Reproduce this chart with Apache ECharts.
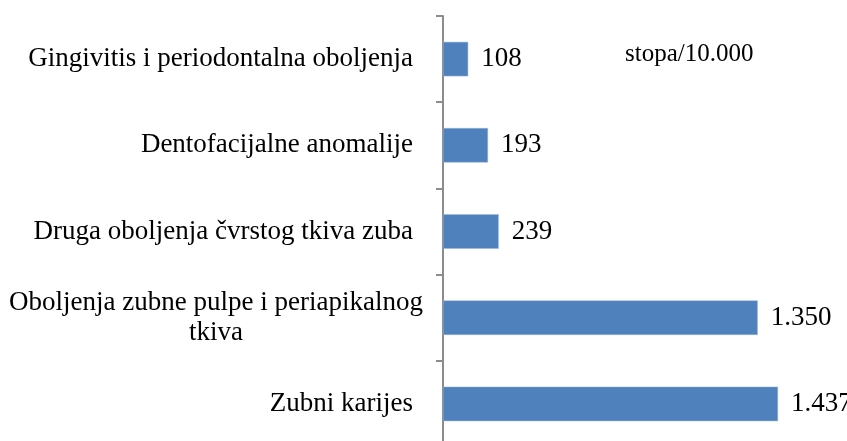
<!DOCTYPE html>
<html>
<head>
<meta charset="utf-8">
<script src="https://cdn.jsdelivr.net/npm/echarts@6/dist/echarts.min.js"></script>
<style>
  html, body { margin: 0; padding: 0; background: #fff; }
  #chart { width: 847px; height: 441px; }
</style>
</head>
<body>
<div id="chart"></div>
<script>
// bottom to top, as the category axis draws them
const categories = [
  'Zubni karijes',
  'Oboljenja zubne pulpe i periapikalnog\ntkiva',
  'Druga oboljenja čvrstog tkiva zuba',
  'Dentofacijalne anomalije',
  'Gingivitis i periodontalna oboljenja'
];
const rates = [1437, 1350, 239, 193, 108];
const unitNote = 'stopa/10.000';

const serif = '"Liberation Serif", "Times New Roman", serif';

// 1437 -> 1.437
const fmt = v => String(v).replace(/\B(?=(\d{3})+(?!\d))/g, '.');

const chart = echarts.init(document.getElementById('chart'));

chart.setOption({
  animation: false,
  title: {
    text: unitNote,
    left: 620,
    top: 37,
    textStyle: { fontFamily: serif, fontSize: 25, fontWeight: 'normal', color: '#000' }
  },
  grid: { left: 443, right: 31, top: 16, bottom: -6, containLabel: false, outerBoundsMode: 'none' },
  xAxis: {
    type: 'value',
    min: 0,
    max: 1600,
    show: false
  },
  yAxis: {
    type: 'category',
    data: categories,
    axisLine: { show: true, lineStyle: { color: '#8c8c8c', width: 2 } },
    axisTick: { show: true, length: 7, lineStyle: { color: '#8c8c8c', width: 2 } },
    axisLabel: {
      margin: 30,
      color: '#000',
      fontFamily: serif,
      fontSize: 27,
      lineHeight: 30,
      formatter: function (v) {
        if (v.indexOf('\n') < 0) return v;
        const parts = v.split('\n');
        return '{c|' + parts[0] + '}\n{c|' + parts[1] + '}';
      },
      rich: {
        c: { width: 394, align: 'center', fontFamily: serif, fontSize: 27, lineHeight: 30, color: '#000' }
      }
    }
  },
  series: [{
    type: 'bar',
    data: rates,
    barWidth: '40%',
    itemStyle: { color: '#4f81bd', borderColor: '#9bb7dd', borderWidth: 0.5 },
    label: {
      show: true,
      position: 'right',
      distance: 13,
      color: '#000',
      fontFamily: serif,
      fontSize: 27,
      formatter: p => fmt(p.value)
    }
  }]
});
</script>
</body>
</html>
